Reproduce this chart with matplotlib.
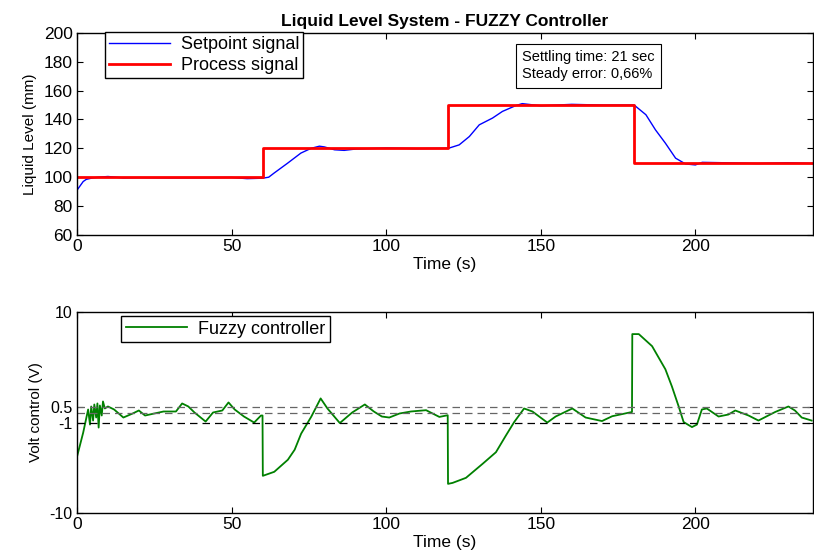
import matplotlib
matplotlib.use("Agg")
import matplotlib.pyplot as plt

plt.rcParams['font.family'] = ['Liberation Sans', 'DejaVu Sans']

# --- top panel data (liquid level, mm) ---
ref_t = [0, 60, 120, 180, 238]
ref_level = [100, 120, 150, 110, 110]

proc_t = [0, 1, 2, 3, 4, 5, 7, 10, 15, 20, 30, 40, 50, 55, 60, 62,
          63.7, 68.1, 72.4, 75.7, 78.4, 80, 83.3, 86.4, 90, 100, 110, 118,
          120.2, 123.6, 126.9, 130.1, 134.4, 137.6, 142, 144, 150, 160, 170,
          180.2, 184, 187.1, 190.3, 193.6, 196.8, 200, 202.2, 210, 220, 230, 238]
proc_level = [91, 94, 97, 98.5, 99, 99.5, 100, 100.5, 99.5, 99.7, 99.5, 99.6, 99.8, 99, 99.3, 100,
              102.8, 109.7, 116.7, 120, 121.5, 121, 119, 118.6, 119.5, 120.2, 119.8, 120,
              120.1, 122.4, 128.2, 136.3, 141, 145.6, 149.7, 151, 149.5, 150.5, 150,
              150, 143.3, 132.8, 123.6, 113.2, 109.2, 108.5, 110.3, 110, 109.5, 110, 109.5]

# --- bottom panel data (control voltage, V) ---
volt_t = [0, 2, 3.6, 4.2, 4.6, 5.2, 5.6, 6.2, 6.6, 7.0, 7.4, 8.0, 8.4, 9, 10,
          12, 15, 18, 20, 22, 25, 28, 32, 34, 36, 38, 41.6, 44, 47, 49, 51, 54, 57.3, 59.5, 60,
          60.1, 63.8, 68.2, 70.4, 72.5, 75.8, 78.8, 81, 85, 89, 93.1, 96, 98.6, 101, 104.3,
          108, 112.9, 117.2, 119.9, 120, 121.5, 125.8, 131.2, 135.5, 138.7, 141.4, 144.6,
          147.3, 152.1, 154.8, 160.2, 164.5, 169.8, 173.1, 179.5, 179.6, 181.7, 186, 190.3,
          192.4, 194.6, 196.2, 198.9, 200.5, 202.1, 203.7, 207.5, 210.7, 212.9, 217.2, 220.4,
          225.8, 230.1, 232.2, 234.4, 237.6]
volt = [-4.4, -2.0, 0.3, -1.2, 0.6, -0.8, 0.8, -0.5, 0.9, -1.5, 0.7, -0.3, 1.1, 0.4, 0.6,
        0.3, -0.5, -0.1, 0.2, -0.3, -0.1, 0.1, 0.1, 0.9, 0.6, 0.0, -0.9, 0.0, 0.2, 1.0, 0.3, -0.4, -1.0, -0.3, -0.3,
        -6.3, -5.9, -4.7, -3.7, -2.1, -0.4, 1.4, 0.4, -1.05, 0.0, 0.8, 0.1, -0.4, -0.5, -0.1,
        0.1, 0.23, -0.44, -0.27, -7.1, -7.0, -6.5, -5.1, -3.95, -2.3, -0.95, 0.4,
        0.1, -1.0, -0.4, 0.4, -0.5, -0.85, -0.37, 0.05, 7.8, 7.8, 6.6, 4.3,
        2.6, 0.6, -0.95, -1.45, -1.2, 0.3, 0.4, -0.4, -0.2, 0.2, -0.3, -0.8,
        0.05, 0.6, 0.2, -0.5, -0.8]

band_levels = [0.5, 0, -1]
band_colors = ['0.4', '0.4', 'black']

fig = plt.figure(figsize=(8.14, 5.58), dpi=100)
ax1 = fig.add_axes([0.0946, 0.579, 0.904, 0.362])
ax2 = fig.add_axes([0.0946, 0.0806, 0.904, 0.3603])

# top
ax1.plot(proc_t, proc_level, color='blue', lw=1.0, label='Setpoint signal')
ax1.plot(ref_t, ref_level, color='red', lw=2.0, drawstyle='steps-post', label='Process signal')
ax1.set_xlim(0, 238)
ax1.set_ylim(60, 200)
ax1.set_yticks(range(60, 201, 20))
ax1.set_xticks([0, 50, 100, 150, 200])
ax1.set_title('Liquid Level System - FUZZY Controller', fontsize=12.5, fontweight='bold', pad=5)
ax1.set_xlabel('Time (s)', fontsize=12.5, labelpad=2)
ax1.set_ylabel('Liquid Level (mm)', fontsize=11, labelpad=5)
ax1.legend(loc='upper left', bbox_to_anchor=(0.038, 1.003), fontsize=13, fancybox=False,
           edgecolor='black', framealpha=1, borderpad=0.2, handlelength=3.4,
           labelspacing=0.25, borderaxespad=0, handletextpad=0.6)
ax1.text(0.605, 0.915, 'Settling time: 21 sec\nSteady error: 0,66%', transform=ax1.transAxes,
         fontsize=10.5, va='top', ha='left', linespacing=1.3,
         bbox=dict(boxstyle='square,pad=0.45', fc='white', ec='black', lw=0.8))

# bottom
ax2.plot(volt_t, volt, color='#008000', lw=1.3, label='Fuzzy controller')
for lev, c in zip(band_levels, band_colors):
    ax2.axhline(lev, color=c, ls='--', lw=0.9, dashes=(6, 4))
ax2.set_xlim(0, 238)
ax2.set_ylim(-10, 10)
ax2.set_yticks([-10, -1, 0.5, 10])
ax2.set_yticklabels(['-10', '-1', '0.5', '10'])
ax2.set_xticks([0, 50, 100, 150, 200])
ax2.set_xlabel('Time (s)', fontsize=12.5, labelpad=2)
ax2.set_ylabel('Volt control (V)', fontsize=11, labelpad=5)
ax2.legend(loc='upper left', bbox_to_anchor=(0.06, 0.98), fontsize=13, fancybox=False,
           edgecolor='black', framealpha=1, borderpad=0.25, handlelength=3.4,
           borderaxespad=0, handletextpad=0.6)

for ax in (ax1, ax2):
    ax.tick_params(direction='in', top=True, right=True, labelsize=12.5, length=4, pad=3)
    for s in ax.spines.values():
        s.set_linewidth(1.0)
ax2.tick_params(axis='y', labelsize=11.5)

fig.savefig('out.png', dpi=100)
